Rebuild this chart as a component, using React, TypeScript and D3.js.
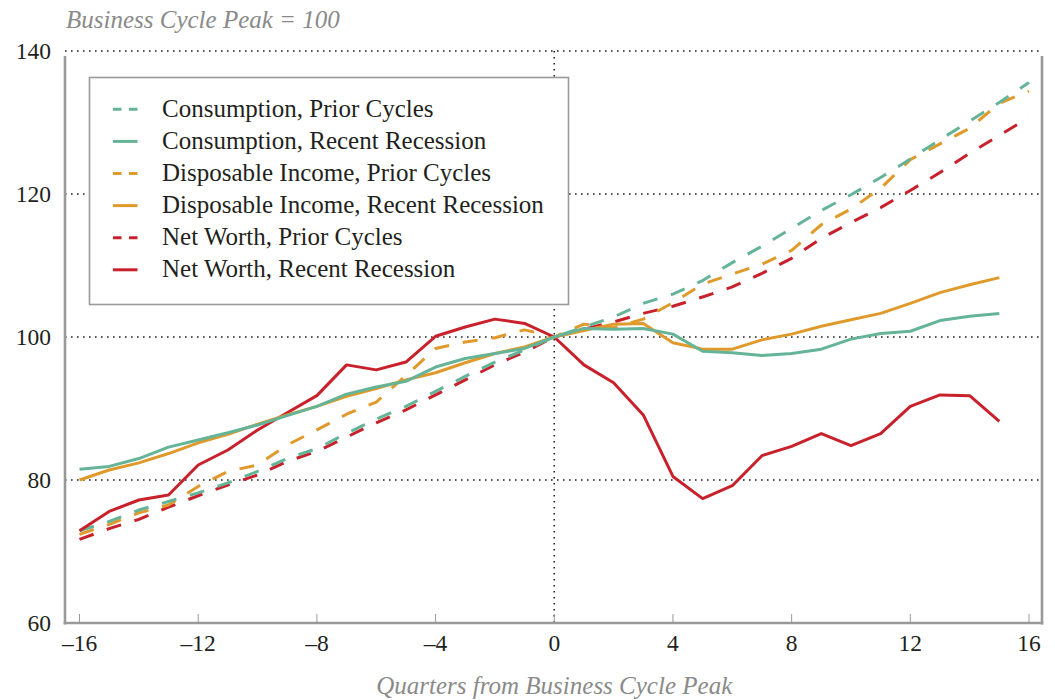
import * as d3 from "d3";

// quarters relative to the business cycle peak
const quarters = [
  -16, -15, -14, -13, -12, -11, -10, -9, -8, -7, -6, -5, -4, -3, -2, -1, 0,
  1, 2, 3, 4, 5, 6, 7, 8, 9, 10, 11, 12, 13, 14, 15, 16,
];
const recentQuarters = quarters.slice(0, 32); // recent recession stops at 15

const consumptionPrior = [
  72.9, 74.2, 75.8, 77.0, 78.2, 79.6, 81.2, 83.0, 84.4, 86.5, 88.5, 90.3, 92.4, 94.5, 96.5, 98.2, 100,
  101.4, 102.8, 104.7, 106.0, 107.9, 110.4, 112.7, 115.2, 117.7, 119.9, 122.3, 124.9, 127.6, 130.2, 132.8, 135.6,
];
const consumptionRecent = [
  81.5, 81.9, 83.0, 84.6, 85.6, 86.6, 87.7, 89.0, 90.3, 92.0, 93.0, 93.8, 95.8, 97.0, 97.7, 98.4, 100,
  101.2, 101.1, 101.2, 100.4, 98.0, 97.8, 97.4, 97.7, 98.3, 99.7, 100.5, 100.8, 102.3, 102.9, 103.3,
];
const incomePrior = [
  72.4, 73.8, 75.4, 76.5, 79.1, 81.2, 82.1, 84.9, 87.0, 89.2, 90.9, 94.6, 98.4, 99.3, 99.9, 101.0, 100,
  101.8, 101.3, 102.5, 104.8, 107.4, 108.8, 110.2, 112.1, 115.7, 117.9, 120.8, 124.8, 127.0, 129.2, 132.7, 134.4,
];
const incomeRecent = [
  80.0, 81.4, 82.4, 83.7, 85.2, 86.4, 87.8, 89.1, 90.3, 91.7, 92.8, 94.0, 95.0, 96.4, 97.7, 98.6, 100,
  100.9, 101.8, 101.9, 99.2, 98.3, 98.3, 99.6, 100.4, 101.5, 102.4, 103.3, 104.7, 106.2, 107.3, 108.3,
];
const netWorthPrior = [
  71.7, 73.2, 74.5, 76.2, 77.8, 79.3, 80.7, 82.6, 84.0, 86.0, 88.0, 89.8, 91.9, 94.0, 96.1, 97.9, 100,
  101.1, 102.1, 103.3, 104.3, 105.6, 107.0, 108.9, 111.0, 113.8, 116.0, 118.1, 120.5, 123.0, 125.7, 128.2, 130.7,
];
const netWorthRecent = [
  72.9, 75.6, 77.2, 77.9, 82.1, 84.2, 87.0, 89.4, 91.8, 96.1, 95.4, 96.5, 100.1, 101.4, 102.5, 101.9, 100,
  96.1, 93.6, 89.1, 80.5, 77.4, 79.2, 83.4, 84.7, 86.5, 84.8, 86.5, 90.3, 91.9, 91.8, 88.2,
];

const xTicks = [-16, -12, -8, -4, 0, 4, 8, 12, 16];
const yTicks = [60, 80, 100, 120, 140];

const GREEN = "#66b498";
const ORANGE = "#e09a2b";
const RED = "#c9212b";

const series = [
  { name: "Consumption, Prior Cycles", xs: quarters, ys: consumptionPrior, color: GREEN, dashed: true },
  { name: "Consumption, Recent Recession", xs: recentQuarters, ys: consumptionRecent, color: GREEN, dashed: false },
  { name: "Disposable Income, Prior Cycles", xs: quarters, ys: incomePrior, color: ORANGE, dashed: true },
  { name: "Disposable Income, Recent Recession", xs: recentQuarters, ys: incomeRecent, color: ORANGE, dashed: false },
  { name: "Net Worth, Prior Cycles", xs: quarters, ys: netWorthPrior, color: RED, dashed: true },
  { name: "Net Worth, Recent Recession", xs: recentQuarters, ys: netWorthRecent, color: RED, dashed: false },
];

const FONT = "'Liberation Serif', 'DejaVu Serif', serif";

export default function App() {
  const width = 1055;
  const height = 700;
  const left = 65;
  const right = 1042;
  const top = 51;
  const bottom = 623;

  const x = d3.scaleLinear().domain([-16, 16]).range([79.5, 1029]);
  const y = d3.scaleLinear().domain([60, 140]).range([bottom, top]);

  const line = d3
    .line<[number, number]>()
    .x((d) => x(d[0]))
    .y((d) => y(d[1]));

  // draw order: prior dashed lines behind the recent ones
  const drawOrder = [4, 2, 0, 5, 3, 1];

  return (
    <svg
      width={width}
      height={height}
      style={{ position: "absolute", left: 0, top: 0, background: "#fff" }}
      fontFamily={FONT}
    >
      <text x={66} y={28} fontSize={25} fontStyle="italic" fill="#8a8a8a">
        Business Cycle Peak = 100
      </text>

      {/* dotted gridlines */}
      {yTicks
        .filter((t) => t > 60)
        .map((t) => (
          <line
            key={t}
            x1={left}
            x2={right}
            y1={y(t)}
            y2={y(t)}
            stroke="#222"
            strokeWidth={1.6}
            strokeDasharray="1.6,4.4"
          />
        ))}
      <line
        x1={x(0)}
        x2={x(0)}
        y1={top}
        y2={bottom}
        stroke="#222"
        strokeWidth={1.6}
        strokeDasharray="1.6,4.4"
      />

      {/* frame */}
      <line x1={left} x2={left} y1={top + 5} y2={bottom + 1.5} stroke="#999" strokeWidth={2.6} />
      <line x1={right} x2={right} y1={top + 5} y2={bottom + 1.5} stroke="#999" strokeWidth={2.6} />
      <line x1={left - 1.3} x2={right + 1.3} y1={bottom} y2={bottom} stroke="#999" strokeWidth={2.6} />

      {xTicks.map((t) => (
        <line key={t} x1={x(t)} x2={x(t)} y1={bottom} y2={bottom - 9} stroke="#999" strokeWidth={1} />
      ))}

      {/* axis labels */}
      {yTicks.map((t) => (
        <text key={t} x={51} y={y(t) + 8} fontSize={23.5} textAnchor="end" fill="#231f20">
          {t}
        </text>
      ))}
      {xTicks.map((t) => (
        <text key={t} x={x(t)} y={651} fontSize={23.5} textAnchor="middle" fill="#231f20">
          {t < 0 ? `\u2013${Math.abs(t)}` : t}
        </text>
      ))}
      <text x={x(0)} y={694} fontSize={25} fontStyle="italic" textAnchor="middle" fill="#8a8a8a">
        Quarters from Business Cycle Peak
      </text>

      {/* series */}
      {drawOrder.map((i) => {
        const s = series[i];
        const pts = s.xs.map((q, k) => [q, s.ys[k]] as [number, number]);
        return (
          <path
            key={s.name}
            d={line(pts) || ""}
            fill="none"
            stroke={s.color}
            strokeWidth={3}
            strokeDasharray={s.dashed ? "15,14" : undefined}
            strokeLinejoin="round"
          />
        );
      })}

      {/* legend */}
      <rect x={89.5} y={77.5} width={479} height={227} fill="#fff" stroke="#999" strokeWidth={1.6} />
      {series.map((s, i) => {
        const cy = 109.3 + i * 32.1;
        return (
          <g key={s.name}>
            <line
              x1={113}
              x2={137.5}
              y1={cy}
              y2={cy}
              stroke={s.color}
              strokeWidth={3}
              strokeDasharray={s.dashed ? "8.5,7.5" : undefined}
            />
            <text x={162} y={cy + 7.5} fontSize={25} fill="#231f20">
              {s.name}
            </text>
          </g>
        );
      })}
    </svg>
  );
}
